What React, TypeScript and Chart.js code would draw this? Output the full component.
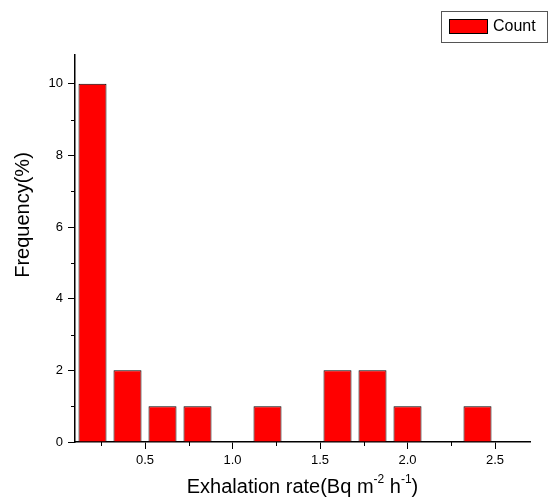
import { useEffect, useRef } from 'react';
import { Chart, registerables } from 'chart.js';

Chart.register(...registerables);

// ---- data ----
const binCenters = [0.2, 0.4, 0.6, 0.8, 1.0, 1.2, 1.4, 1.6, 1.8, 2.0, 2.2, 2.4, 2.6];
const counts = [10, 2, 1, 1, 0, 1, 0, 2, 2, 1, 0, 1, 0];
const xTickValues = [0.5, 1.0, 1.5, 2.0, 2.5];
const xMinorTickValues = [0.25, 0.75, 1.25, 1.75, 2.25];
const yTickValues = [0, 2, 4, 6, 8, 10];
const yMinorTickValues = [1, 3, 5, 7, 9];
const seriesLabel = 'Count';
const yTitle = 'Frequency(%)';
const xTitleParts = [
  { t: 'Exhalation rate(Bq m', sup: false },
  { t: '-2', sup: true },
  { t: ' h', sup: false },
  { t: '-1', sup: true },
  { t: ')', sup: false },
];

const FONT = '"Liberation Sans", Arial, Helvetica, sans-serif';

const decorPlugin = {
  id: 'decor',
  afterDraw(chart: any) {
    const ctx = chart.ctx as CanvasRenderingContext2D;
    const xs = chart.scales.x;
    const ys = chart.scales.y;
    const area = chart.chartArea;
    ctx.save();
    // minor ticks
    ctx.strokeStyle = '#000';
    ctx.lineWidth = 1;
    xMinorTickValues.forEach((v) => {
      const px = Math.round(xs.getPixelForValue(v)) + 0.5;
      ctx.beginPath();
      ctx.moveTo(px, area.bottom);
      ctx.lineTo(px, area.bottom + 4);
      ctx.stroke();
    });
    yMinorTickValues.forEach((v) => {
      const py = Math.round(ys.getPixelForValue(v)) + 0.5;
      ctx.beginPath();
      ctx.moveTo(area.left, py);
      ctx.lineTo(area.left - 4, py);
      ctx.stroke();
    });
    ctx.restore();

    // y title
    ctx.save();
    ctx.fillStyle = '#000';
    ctx.font = `20px ${FONT}`;
    ctx.translate(29, 215);
    ctx.rotate(-Math.PI / 2);
    ctx.textAlign = 'center';
    ctx.textBaseline = 'alphabetic';
    ctx.fillText(yTitle, 0, 0);
    ctx.restore();

    // x title with superscripts
    ctx.save();
    ctx.fillStyle = '#000';
    ctx.textBaseline = 'alphabetic';
    ctx.textAlign = 'left';
    const mainFont = `20px ${FONT}`;
    const supFont = `12px ${FONT}`;
    let total = 0;
    xTitleParts.forEach((p) => {
      ctx.font = p.sup ? supFont : mainFont;
      total += ctx.measureText(p.t).width;
    });
    let x = (area.left + area.right) / 2 - total / 2;
    const baseY = 493;
    xTitleParts.forEach((p) => {
      ctx.font = p.sup ? supFont : mainFont;
      ctx.fillText(p.t, x, p.sup ? baseY - 10 : baseY);
      x += ctx.measureText(p.t).width;
    });
    ctx.restore();

    // legend
    ctx.save();
    ctx.strokeStyle = '#555';
    ctx.lineWidth = 1;
    ctx.strokeRect(441.5, 11.5, 106, 31);
    ctx.fillStyle = '#ff0000';
    ctx.fillRect(449.5, 19.5, 38, 14);
    ctx.strokeStyle = '#000';
    ctx.strokeRect(449.5, 19.5, 38, 14);
    ctx.fillStyle = '#000';
    ctx.font = `16px ${FONT}`;
    ctx.textBaseline = 'middle';
    ctx.textAlign = 'left';
    ctx.fillText(chart.data.datasets[0].label, 493, 27);
    ctx.restore();
  },
};

export default function App() {
  const ref = useRef<HTMLCanvasElement | null>(null);
  useEffect(() => {
    if (!ref.current) return;
    const chart = new Chart(ref.current, {
      type: 'bar',
      data: {
        datasets: [
          {
            label: seriesLabel,
            data: binCenters.map((x, i) => ({ x, y: counts[i] })),
            backgroundColor: '#ff0000',
            borderColor: '#000',
            borderWidth: (c: any) => (c.raw && c.raw.y === 0 ? 0 : 1),
            barPercentage: 0.8,
            categoryPercentage: 1,
          },
        ],
      },
      options: {
        animation: false,
        responsive: false,
        devicePixelRatio: 1,
        layout: { padding: { top: 55, right: 19, left: 0, bottom: 0 } },
        plugins: {
          legend: { display: false },
          tooltip: { enabled: false },
          title: { display: false },
        },
        scales: {
          x: {
            type: 'linear',
            min: 0.1,
            max: 2.7,
            offset: false,
            afterBuildTicks: (s: any) => {
              s.ticks = xTickValues.map((v) => ({ value: v }));
            },
            afterFit: (s: any) => {
              s.height = 55;
            },
            grid: {
              offset: false,
              drawOnChartArea: false,
              drawTicks: true,
              tickLength: 7,
              tickColor: '#000',
              tickWidth: 1,
            },
            border: { display: true, color: '#000', width: 1.5 },
            ticks: {
              color: '#000',
              font: { family: FONT, size: 13 },
              padding: 4,
              maxRotation: 0,
              autoSkip: false,
              callback: (v: any) => Number(v).toFixed(1),
            },
          },
          y: {
            type: 'linear',
            min: 0,
            max: 10.8,
            afterBuildTicks: (s: any) => {
              s.ticks = yTickValues.map((v) => ({ value: v }));
            },
            afterFit: (s: any) => {
              s.width = 75;
            },
            grid: {
              drawOnChartArea: false,
              drawTicks: true,
              tickLength: 7,
              tickColor: '#000',
              tickWidth: 1,
            },
            border: { display: true, color: '#000', width: 1.5 },
            ticks: {
              color: '#000',
              font: { family: FONT, size: 13 },
              padding: 5,
              autoSkip: false,
              callback: (v: any) => String(v),
            },
          },
        },
      },
      plugins: [decorPlugin],
    });
    return () => chart.destroy();
  }, []);
  return (
    <div style={{ position: 'absolute', left: 0, top: 0, width: 549, height: 497, background: '#fff' }}>
      <canvas ref={ref} width={549} height={497} style={{ width: 549, height: 497, display: 'block' }} />
    </div>
  );
}
